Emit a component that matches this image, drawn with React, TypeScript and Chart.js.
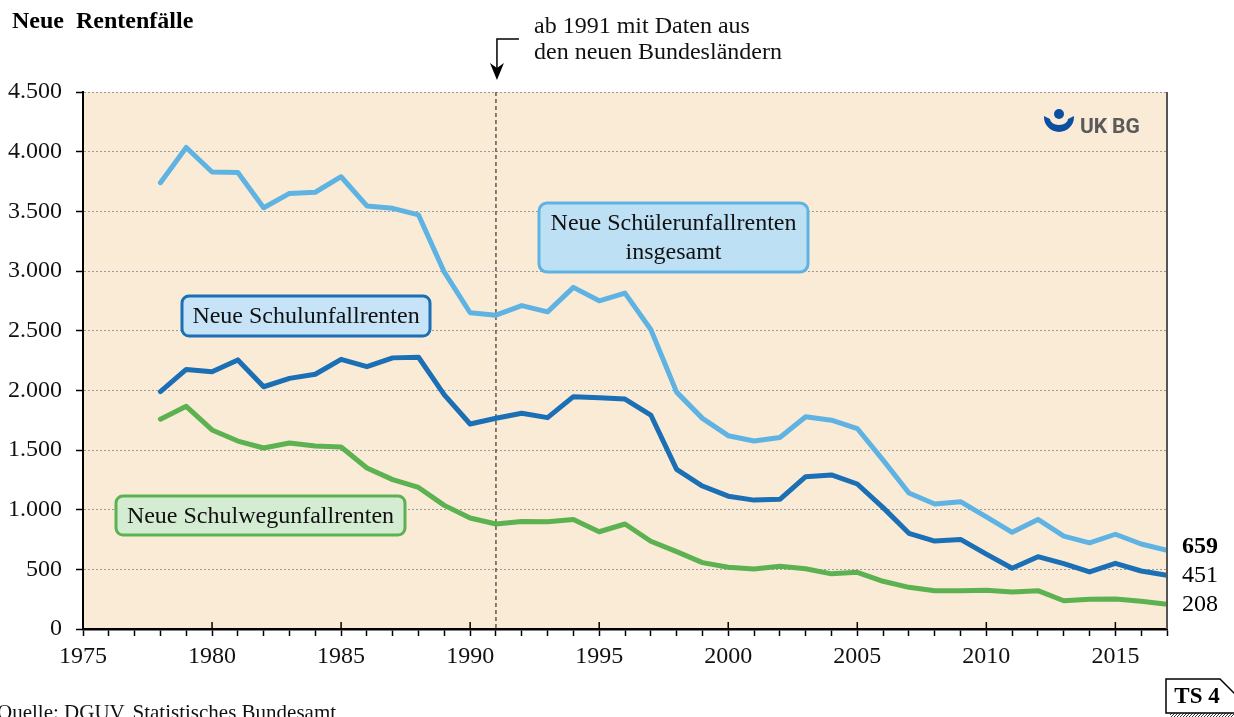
import React, { useEffect, useRef } from "react";
import { Chart, registerables } from "chart.js";

Chart.register(...registerables);

// Jahre 1978–2017
const years = [
  1978, 1979, 1980, 1981, 1982, 1983, 1984, 1985, 1986, 1987,
  1988, 1989, 1990, 1991, 1992, 1993, 1994, 1995, 1996, 1997,
  1998, 1999, 2000, 2001, 2002, 2003, 2004, 2005, 2006, 2007,
  2008, 2009, 2010, 2011, 2012, 2013, 2014, 2015, 2016, 2017,
];

// Neue Schülerunfallrenten insgesamt
const totalPensions = [
  3740, 4035, 3830, 3825, 3530, 3650, 3660, 3790, 3545, 3525,
  3470, 2990, 2650, 2630, 2710, 2658, 2863, 2750, 2815, 2510,
  1985, 1765, 1620, 1575, 1605, 1778, 1750, 1680, 1415, 1140,
  1048, 1067, 940, 810, 918, 778, 722, 794, 712, 659,
];

// Neue Schulunfallrenten
const schoolPensions = [
  1990, 2175, 2155, 2255, 2030, 2100, 2135, 2260, 2198, 2272,
  2277, 1962, 1718, 1766, 1808, 1771, 1947, 1938, 1927, 1793,
  1338, 1198, 1113, 1080, 1087, 1276, 1291, 1215, 1017, 802,
  737, 751, 627, 509, 606, 548, 478, 550, 486, 451,
];

// Neue Schulwegunfallrenten
const commutePensions = [
  1758, 1866, 1668, 1575, 1517, 1559, 1534, 1525, 1349, 1252,
  1186, 1036, 930, 880, 900, 898, 917, 815, 880, 735,
  648, 556, 517, 503, 525, 505, 462, 475, 400, 349,
  321, 321, 325, 310, 321, 237, 250, 251, 232, 208,
];

const seriesLabels = [
  "Neue Schülerunfallrenten insgesamt",
  "Neue Schulunfallrenten",
  "Neue Schulwegunfallrenten",
];
const seriesColors = ["#5EB3E3", "#1A6FB5", "#5CB150"];

const xMin = 1975;
const xMax = 2017;
const yMax = 4500;
const yStep = 500;
const reunificationYear = 1991;

const SERIF = '"Liberation Serif", "Times New Roman", serif';

const formatThousands = (v: number) =>
  String(v).replace(/\B(?=(\d{3})+(?!\d))/g, ".");

function roundBox(
  ctx: CanvasRenderingContext2D,
  x: number, y: number, w: number, h: number, r: number,
  fill: string, stroke: string, lines: string[]
) {
  ctx.save();
  ctx.beginPath();
  ctx.roundRect(x, y, w, h, r);
  ctx.fillStyle = fill;
  ctx.fill();
  ctx.lineWidth = 3;
  ctx.strokeStyle = stroke;
  ctx.stroke();
  ctx.fillStyle = "#111";
  ctx.font = `24px ${SERIF}`;
  ctx.textAlign = "center";
  ctx.textBaseline = "middle";
  const lh = 29;
  const cy = y + h / 2 - ((lines.length - 1) * lh) / 2;
  lines.forEach((t, i) => ctx.fillText(t, x + w / 2, cy + i * lh + 1));
  ctx.restore();
}

const decorPlugin = {
  id: "decor",
  beforeDraw(chart: any) {
    const { ctx, chartArea: a } = chart;
    ctx.save();
    ctx.fillStyle = "#FAEBD7";
    ctx.fillRect(a.left, a.top, a.right - a.left, a.bottom - a.top);
    ctx.restore();
  },
  beforeDatasetsDraw(chart: any) {
    const { ctx, chartArea: a, scales } = chart;
    const x = scales.x.getPixelForValue(reunificationYear);
    ctx.save();
    ctx.strokeStyle = "#444";
    ctx.lineWidth = 1.3;
    ctx.setLineDash([4, 3]);
    ctx.beginPath();
    ctx.moveTo(x, a.top);
    ctx.lineTo(x, a.bottom);
    ctx.stroke();
    ctx.restore();
  },
  afterDraw(chart: any) {
    const { ctx, chartArea: a, scales } = chart;
    const xs = scales.x;
    const ys = scales.y;
    ctx.save();

    // right frame
    ctx.strokeStyle = "#555";
    ctx.lineWidth = 2;
    ctx.beginPath();
    ctx.moveTo(a.right, a.top);
    ctx.lineTo(a.right, a.bottom);
    ctx.stroke();

    // upward part of the major x ticks
    ctx.strokeStyle = "#000";
    ctx.lineWidth = 1.5;
    for (let v = xMin; v <= xMax; v += 5) {
      const px = xs.getPixelForValue(v);
      ctx.beginPath();
      ctx.moveTo(px, a.bottom - 7);
      ctx.lineTo(px, a.bottom);
      ctx.stroke();
    }

    // title
    ctx.fillStyle = "#000";
    ctx.font = `bold 24px ${SERIF}`;
    ctx.textAlign = "left";
    ctx.textBaseline = "middle";
    ctx.fillText("Neue  Rentenfälle", 12, 22);

    // note with arrow at 1991
    const ax = xs.getPixelForValue(reunificationYear) + 1;
    ctx.lineWidth = 1.5;
    ctx.beginPath();
    ctx.moveTo(ax + 22, 39);
    ctx.lineTo(ax, 39);
    ctx.lineTo(ax, 70);
    ctx.stroke();
    ctx.beginPath();
    ctx.moveTo(ax, 80);
    ctx.lineTo(ax - 7, 63);
    ctx.lineTo(ax, 68);
    ctx.lineTo(ax + 7, 63);
    ctx.closePath();
    ctx.fill();
    ctx.font = `24px ${SERIF}`;
    ctx.fillStyle = "#111";
    ctx.fillText("ab 1991 mit Daten aus", 534, 27);
    ctx.fillText("den neuen Bundesländern", 534, 53);

    // series labels
    roundBox(ctx, 539, 203, 269, 69, 8, "#BEE0F5", seriesColors[0], [
      "Neue Schülerunfallrenten",
      "insgesamt",
    ]);
    roundBox(ctx, 182, 296, 248, 40, 7, "#C6E3F8", seriesColors[1], [
      seriesLabels[1],
    ]);
    roundBox(ctx, 116, 496, 289, 39, 7, "#D4ECD2", seriesColors[2], [
      seriesLabels[2],
    ]);

    // end values
    const lastIdx = years.length - 1;
    const ends = [
      { v: totalPensions[lastIdx], bold: true, dy: -4 },
      { v: schoolPensions[lastIdx], bold: false, dy: 1 },
      { v: commutePensions[lastIdx], bold: false, dy: 1 },
    ];
    ctx.textAlign = "center";
    ends.forEach((e) => {
      ctx.font = `${e.bold ? "bold " : ""}24px ${SERIF}`;
      ctx.fillStyle = "#000";
      ctx.fillText(String(e.v), 1200, ys.getPixelForValue(e.v) + e.dy);
    });

    // logo
    ctx.fillStyle = "#0B4EA2";
    ctx.beginPath();
    ctx.arc(1059, 114, 5, 0, Math.PI * 2);
    ctx.fill();
    ctx.beginPath();
    ctx.moveTo(1044, 116);
    ctx.ellipse(1059, 117, 15, 15, 0, Math.PI, 0, true);
    ctx.lineTo(1074, 116);
    ctx.lineTo(1068, 119);
    ctx.ellipse(1059, 119, 9, 6, 0, 0, Math.PI, false);
    ctx.lineTo(1044, 116);
    ctx.closePath();
    ctx.fill();
    ctx.fillStyle = "#5A5A5A";
    ctx.font = `bold 21px Roboto, "DejaVu Sans", sans-serif`;
    ctx.textAlign = "left";
    ctx.textBaseline = "alphabetic";
    ctx.fillText("UK", 1080, 133);
    ctx.fillText("BG", 1112, 133);
    ctx.strokeStyle = "#FFFFFF";
    ctx.lineWidth = 1;
    ctx.beginPath();
    ctx.moveTo(1109, 116);
    ctx.lineTo(1109, 134);
    ctx.stroke();

    // source
    ctx.fillStyle = "#111";
    ctx.font = `21px ${SERIF}`;
    ctx.fillText("Quelle: DGUV, Statistisches Bundesamt", -3, 719);

    // TS 4 badge with hatched shadow
    ctx.save();
    ctx.beginPath();
    ctx.moveTo(1170, 713);
    ctx.lineTo(1222, 713);
    ctx.lineTo(1236, 699);
    ctx.lineTo(1236, 719);
    ctx.lineTo(1170, 719);
    ctx.closePath();
    ctx.clip();
    ctx.strokeStyle = "#333";
    ctx.lineWidth = 1;
    for (let hx = 1160; hx < 1250; hx += 3) {
      ctx.beginPath();
      ctx.moveTo(hx, 719);
      ctx.lineTo(hx + 20, 699);
      ctx.stroke();
    }
    ctx.restore();
    ctx.beginPath();
    ctx.moveTo(1166, 679);
    ctx.lineTo(1220, 679);
    ctx.lineTo(1236, 695);
    ctx.lineTo(1236, 713);
    ctx.lineTo(1166, 713);
    ctx.closePath();
    ctx.fillStyle = "#fff";
    ctx.fill();
    ctx.strokeStyle = "#000";
    ctx.lineWidth = 1.5;
    ctx.stroke();
    ctx.fillStyle = "#000";
    ctx.font = `bold 23px ${SERIF}`;
    ctx.textAlign = "center";
    ctx.textBaseline = "middle";
    ctx.fillText("TS 4", 1197, 697);

    ctx.restore();
  },
};

export default function App() {
  const canvasRef = useRef<HTMLCanvasElement | null>(null);

  useEffect(() => {
    if (!canvasRef.current) return;
    const makeSeries = (values: number[], i: number) => ({
      label: seriesLabels[i],
      data: years.map((yr, k) => ({ x: yr, y: values[k] })),
      borderColor: seriesColors[i],
      backgroundColor: seriesColors[i],
      borderWidth: 5,
      borderCapStyle: "round" as const,
      borderJoinStyle: "round" as const,
      pointRadius: 0,
      tension: 0,
      fill: false,
    });
    const chart = new Chart(canvasRef.current, {
      type: "line",
      data: {
        datasets: [
          makeSeries(totalPensions, 0),
          makeSeries(schoolPensions, 1),
          makeSeries(commutePensions, 2),
        ],
      },
      options: {
        animation: false,
        responsive: false,
        devicePixelRatio: 1,
        layout: { padding: { left: 0, right: 67, top: 92, bottom: 0 } },
        plugins: {
          legend: { display: false },
          tooltip: { enabled: false },
        },
        scales: {
          x: {
            type: "linear",
            min: xMin,
            max: xMax,
            afterFit: (s: any) => {
              s.height = 88;
            },
            grid: {
              display: true,
              drawOnChartArea: false,
              drawTicks: true,
              tickLength: 7,
              tickColor: "#000",
              tickWidth: 1.5,
            },
            border: { display: true, color: "#000", width: 2.5 },
            ticks: {
              stepSize: 1,
              autoSkip: false,
              maxRotation: 0,
              padding: 6,
              color: "#111",
              font: { family: SERIF, size: 24 },
              callback: (v: any) => (Number(v) % 5 === 0 ? String(v) : ""),
            },
          },
          y: {
            min: 0,
            max: yMax,
            afterFit: (s: any) => {
              s.width = 83;
            },
            grid: {
              color: "#9A9A9A",
              lineWidth: 1,
              tickColor: "#000",
              tickLength: 7,
              tickWidth: 1.5,
              tickBorderDash: [],
            },
            border: { display: true, color: "#000", width: 2, dash: [2, 2] },
            ticks: {
              stepSize: yStep,
              padding: 14,
              color: "#111",
              font: { family: SERIF, size: 24 },
              callback: (v: any) => formatThousands(Number(v)),
            },
          },
        },
      },
      plugins: [decorPlugin],
    });
    return () => chart.destroy();
  }, []);

  return (
    <div style={{ position: "absolute", left: 0, top: 0, width: 1234, height: 717, background: "#fff" }}>
      <canvas ref={canvasRef} width={1234} height={717} />
    </div>
  );
}
